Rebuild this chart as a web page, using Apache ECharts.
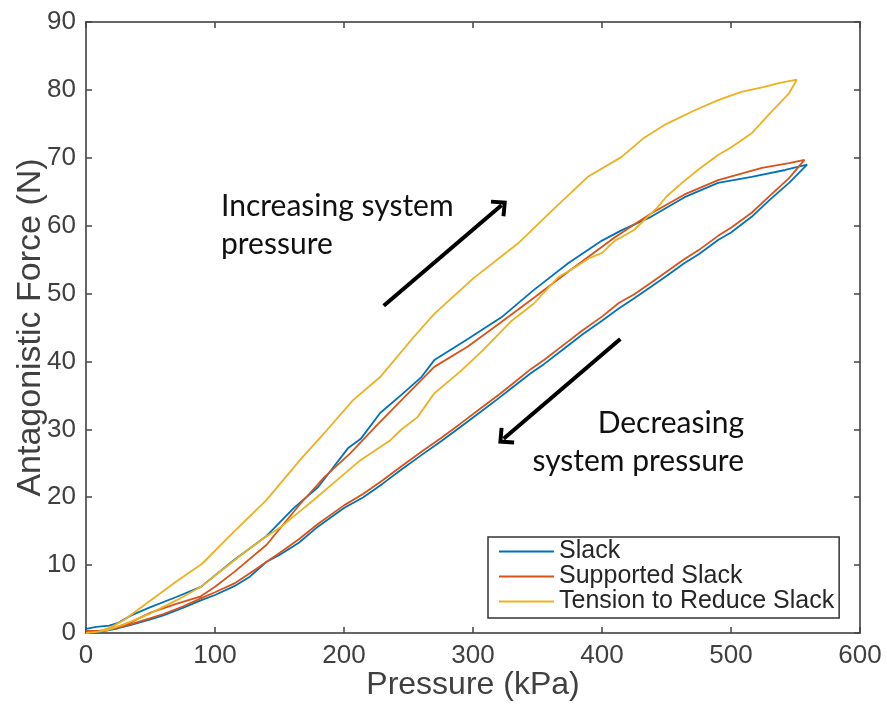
<!DOCTYPE html>
<html>
<head>
<meta charset="utf-8">
<script src="https://cdn.jsdelivr.net/npm/echarts@6/dist/echarts.min.js"></script>
<style>
  html, body { margin: 0; padding: 0; background: #fff; }
  #chart { width: 887px; height: 704px; }
</style>
</head>
<body>
<div id="chart"></div>
<script>
// Hysteresis loops: force rises along the upper branch, returns along the lower one.
const slackUpP   = [0, 8, 18, 25, 35, 50, 70, 89, 115, 140, 161, 180, 203, 213, 228, 244, 260, 270, 296, 322, 347, 374, 400, 415, 438, 464, 490, 516, 542, 559];
const slackUpF   = [0.6, 0.9, 1.1, 1.5, 2.6, 3.8, 5.3, 6.8, 10.8, 14.3, 18.4, 21.5, 27.2, 28.6, 32.4, 35.0, 37.7, 40.2, 43.3, 46.5, 50.5, 54.5, 57.8, 59.3, 61.3, 64.2, 66.3, 67.2, 68.2, 69.0];
const slackDownP = [559, 545, 530, 516, 500, 490, 475, 464, 450, 438, 425, 413, 400, 385, 370, 355, 345, 330, 320, 306, 290, 275, 260, 244, 230, 215, 200, 180, 165, 150, 140, 127, 115, 100, 89, 75, 60, 50, 35, 25, 15, 5, 0];
const slackDownF = [69.0, 66.3, 63.8, 61.3, 59.0, 57.9, 55.8, 54.5, 52.6, 51.0, 49.3, 47.8, 46.0, 44.0, 41.8, 39.6, 38.3, 36.1, 34.6, 32.6, 30.3, 28.2, 26.2, 24.0, 22.0, 20.0, 18.4, 15.7, 13.3, 11.5, 10.5, 8.3, 6.9, 5.6, 4.8, 3.7, 2.6, 2.0, 1.2, 0.7, 0.3, 0.1, 0];

const supUpP   = [0, 10, 20, 35, 50, 70, 89, 100, 115, 140, 166, 185, 205, 225, 244, 270, 296, 322, 348, 375, 400, 410, 438, 464, 490, 524, 545, 557];
const supUpF   = [0.3, 0.3, 0.6, 1.6, 3.0, 4.3, 5.4, 6.8, 9.0, 13.0, 19.0, 23.0, 26.5, 30.5, 34.2, 39.2, 42.2, 45.8, 49.5, 53.4, 56.9, 58.3, 61.8, 64.6, 66.7, 68.5, 69.2, 69.7];
const supDownP = [557, 545, 530, 516, 500, 490, 475, 464, 450, 438, 425, 413, 400, 385, 370, 355, 345, 330, 320, 306, 290, 275, 260, 244, 230, 215, 200, 180, 165, 150, 127, 115, 100, 89, 75, 60, 50, 35, 25, 15, 5, 0];
const supDownF = [69.7, 67.0, 64.4, 61.9, 59.7, 58.5, 56.4, 55.1, 53.2, 51.6, 49.9, 48.6, 46.6, 44.6, 42.4, 40.2, 38.9, 36.6, 35.1, 33.1, 30.8, 28.7, 26.7, 24.5, 22.5, 20.5, 18.8, 16.1, 13.8, 11.8, 8.8, 7.3, 6.0, 5.1, 3.9, 2.8, 2.2, 1.3, 0.8, 0.4, 0.2, 0];

const tenUpP   = [0, 10, 20, 30, 50, 70, 90, 114, 140, 166, 185, 207, 228, 254, 270, 300, 335, 360, 389, 415, 433, 450, 472, 490, 508, 525, 537, 551];
const tenUpF   = [0, 0.2, 0.9, 2.0, 4.8, 7.6, 10.2, 14.8, 19.6, 25.5, 29.5, 34.3, 37.7, 43.6, 47.0, 52.2, 57.4, 62.0, 67.2, 70.1, 73.0, 75.0, 77.0, 78.5, 79.7, 80.4, 81.0, 81.5];
const tenDownP = [551, 545, 530, 516, 500, 490, 475, 462, 450, 443, 425, 415, 410, 400, 390, 380, 366, 347, 330, 308, 290, 270, 257, 244, 236, 213, 195, 179, 165, 151, 138, 125, 105, 89, 70, 50, 30, 16, 5];
const tenDownF = [81.5, 79.5, 76.5, 73.6, 71.5, 70.4, 68.3, 66.3, 64.3, 62.7, 59.4, 58.3, 57.8, 56.0, 55.2, 54.0, 52.4, 48.5, 46.0, 41.7, 38.5, 35.3, 31.8, 29.9, 28.4, 25.5, 22.6, 20.0, 17.8, 15.6, 14.0, 12.2, 9.2, 6.8, 4.8, 2.9, 1.3, 0.4, 0.1];

const seriesNames = ['Slack', 'Supported Slack', 'Tension to Reduce Slack'];
const seriesColors = ['#0072BD', '#D95319', '#EDB120'];

// Direction arrows, [pressure, force] from tail to head
const riseArrow = [[230.8, 48.2], [322.1, 63.0]];
const fallArrow = [[414.2, 43.3], [323.7, 28.6]];

function loop(upP, upF, downP, downF) {
  const pts = upP.map((p, i) => [p, upF[i]]);
  return pts.concat(downP.map((p, i) => [p, downF[i]]));
}

const loops = [
  loop(slackUpP, slackUpF, slackDownP, slackDownF),
  loop(supUpP, supUpF, supDownP, supDownF),
  loop(tenUpP, tenUpF, tenDownP, tenDownF)
];

const axisFont = '"Liberation Sans", Arial, Helvetica, sans-serif';
const noteFont = '30px Lato, "Open Sans", sans-serif';
const axisColor = '#666';
const chevron = 'path://M12,0 L24,12 L21,15 L12,6 L3,15 L0,12 Z';

const chart = echarts.init(document.getElementById('chart'), null, { renderer: 'canvas' });

const lineSeries = loops.map((data, i) => ({
  name: seriesNames[i],
  type: 'line',
  data: data,
  xAxisIndex: 0,
  yAxisIndex: 0,
  showSymbol: false,
  symbol: 'none',
  smooth: false,
  lineStyle: { color: seriesColors[i], width: 1.8 },
  itemStyle: { color: seriesColors[i] },
  z: 3 + i
}));

lineSeries.push({
  name: 'arrows',
  type: 'line',
  data: [],
  xAxisIndex: 0,
  yAxisIndex: 0,
  silent: true,
  markLine: {
    silent: true,
    symbol: ['none', chevron],
    symbolSize: [22, 14],
    label: { show: false },
    lineStyle: { color: '#000', width: 4, type: 'solid' },
    data: [
      [{ coord: riseArrow[0] }, { coord: riseArrow[1] }],
      [{ coord: fallArrow[0] }, { coord: fallArrow[1] }]
    ]
  }
});

const boxAxis = {
  axisLine: { show: true, onZero: false, lineStyle: { color: axisColor, width: 2 } },
  axisTick: { show: true, inside: true, length: 6, lineStyle: { color: '#444', width: 1.5 } },
  splitLine: { show: false }
};

const option = {
  animation: false,
  backgroundColor: '#fff',
  grid: { left: 86, top: 22, right: 27, bottom: 71, containLabel: false, outerBoundsMode: 'none' },
  xAxis: [
    Object.assign({
      type: 'value', min: 0, max: 600, interval: 100, position: 'bottom',
      name: 'Pressure (kPa)', nameLocation: 'middle', nameGap: 36, nameMoveOverlap: false,
      nameTextStyle: { fontFamily: axisFont, fontSize: 32, color: '#404040' },
      axisLabel: { fontFamily: axisFont, fontSize: 26, color: '#404040', margin: 10 }
    }, boxAxis),
    Object.assign({
      type: 'value', min: 0, max: 600, interval: 100, position: 'top',
      axisLabel: { show: false }
    }, boxAxis)
  ],
  yAxis: [
    Object.assign({
      type: 'value', min: 0, max: 90, interval: 10, position: 'left',
      name: 'Antagonistic Force (N)', nameLocation: 'middle', nameGap: 38, nameRotate: 90, nameMoveOverlap: false,
      nameTextStyle: { fontFamily: axisFont, fontSize: 34, color: '#404040' },
      axisLabel: { fontFamily: axisFont, fontSize: 26, color: '#404040', margin: 10 }
    }, boxAxis),
    Object.assign({
      type: 'value', min: 0, max: 90, interval: 10, position: 'right',
      axisLabel: { show: false }
    }, boxAxis)
  ],
  legend: {
    data: seriesNames,
    orient: 'vertical',
    left: 488,
    top: 537,
    padding: [2, 5, 4, 10],
    itemGap: 0,
    itemWidth: 55,
    itemHeight: 12,
    itemStyle: { opacity: 0 },
    backgroundColor: '#fff',
    borderColor: '#333',
    borderWidth: 1.5,
    borderRadius: 0,
    selectedMode: false,
    textStyle: { fontFamily: axisFont, fontSize: 25, color: '#262626', lineHeight: 25 }
  },
  graphic: [
    { type: 'text', left: 221, top: 191, silent: true,
      style: { text: 'Increasing system', font: noteFont, fill: '#111' } },
    { type: 'text', left: 221, top: 229, silent: true,
      style: { text: 'pressure', font: noteFont, fill: '#111' } },
    { type: 'text', right: 887 - 744, top: 408, silent: true,
      style: { text: 'Decreasing', font: noteFont, fill: '#111' } },
    { type: 'text', right: 887 - 744, top: 446, silent: true,
      style: { text: 'system pressure', font: noteFont, fill: '#111' } }
  ],
  series: lineSeries
};

chart.setOption(option);
</script>
</body>
</html>
